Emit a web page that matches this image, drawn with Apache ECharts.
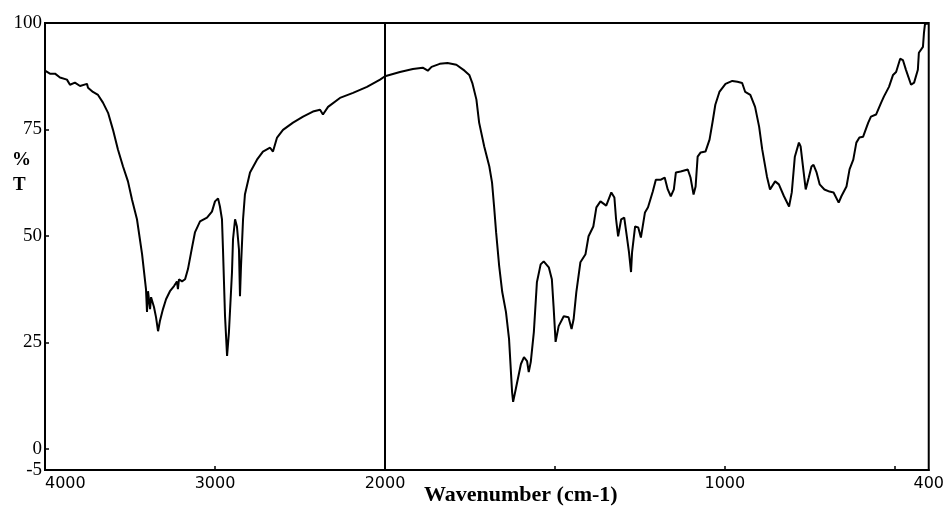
<!DOCTYPE html>
<html>
<head>
<meta charset="utf-8">
<title>FTIR spectrum</title>
<script src="https://cdn.jsdelivr.net/npm/echarts@6/dist/echarts.min.js"></script>
<style>
  html, body { margin: 0; padding: 0; background: #fff; }
  #chart { width: 947px; height: 510px; }
</style>
</head>
<body>
<div id="chart"></div>
<script>
// High-wavenumber region (4000–2000 cm-1), compressed scale
const wnHigh = [4000, 3971, 3941, 3912, 3871, 3853, 3824, 3794, 3753, 3747, 3718, 3688, 3659, 3629, 3600, 3571, 3541, 3512, 3488, 3459, 3429, 3406, 3400, 3394, 3382, 3376, 3359, 3347, 3335, 3324, 3306, 3288, 3265, 3241, 3224, 3218, 3212, 3194, 3176, 3159, 3135, 3118, 3088, 3047, 3018, 3000, 2982, 2971, 2959, 2953, 2941, 2929, 2918, 2900, 2894, 2882, 2876, 2871, 2859, 2853, 2847, 2835, 2824, 2794, 2753, 2718, 2676, 2659, 2635, 2600, 2541, 2482, 2424, 2382, 2365, 2335, 2265, 2188, 2106, 2029, 2000];
const tHigh = [88.8, 88.1, 88.1, 87.2, 86.7, 85.5, 86.0, 85.2, 85.7, 84.8, 83.8, 83.1, 81.3, 78.9, 74.9, 70.3, 66.3, 62.8, 58.5, 53.9, 45.7, 37.5, 32.1, 37.0, 32.8, 35.6, 33.3, 30.9, 27.6, 30.0, 32.8, 35.1, 37.0, 38.2, 39.3, 37.5, 39.8, 39.3, 39.8, 42.2, 47.3, 50.8, 53.4, 54.3, 55.7, 58.1, 58.8, 56.9, 53.9, 46.8, 31.1, 21.8, 27.4, 41.5, 49.2, 53.9, 54.3, 52.2, 46.8, 35.8, 42.9, 53.9, 59.7, 64.9, 67.9, 69.8, 70.7, 69.8, 73.1, 74.9, 76.6, 78.0, 79.2, 79.6, 78.5, 80.3, 82.4, 83.6, 85.0, 86.7, 87.5];

// Fingerprint region (2000–400 cm-1), expanded scale
const wnLow = [2000, 1956, 1918, 1889, 1874, 1863, 1839, 1816, 1790, 1766, 1752, 1743, 1731, 1723, 1708, 1693, 1685, 1679, 1673, 1664, 1655, 1644, 1635, 1626, 1623, 1615, 1600, 1591, 1582, 1577, 1571, 1562, 1553, 1542, 1533, 1518, 1509, 1504, 1498, 1489, 1474, 1460, 1451, 1445, 1437, 1425, 1410, 1401, 1387, 1378, 1366, 1349, 1334, 1325, 1320, 1314, 1305, 1296, 1290, 1282, 1276, 1273, 1264, 1255, 1247, 1235, 1226, 1212, 1203, 1188, 1177, 1168, 1159, 1150, 1144, 1130, 1109, 1101, 1092, 1086, 1080, 1071, 1057, 1045, 1036, 1028, 1016, 998, 978, 963, 949, 940, 925, 911, 899, 890, 876, 867, 852, 841, 826, 811, 803, 794, 782, 777, 768, 762, 753, 745, 739, 730, 721, 707, 692, 680, 665, 657, 642, 633, 622, 613, 604, 593, 578, 570, 555, 540, 532, 517, 505, 496, 484, 476, 467, 452, 443, 432, 429, 417, 414, 411, 405, 400];
const tLow = [87.5, 88.5, 89.2, 89.5, 88.8, 89.7, 90.4, 90.6, 90.2, 88.8, 87.8, 85.9, 82.0, 76.6, 71.0, 66.3, 62.5, 56.9, 50.8, 42.9, 36.8, 32.1, 25.8, 13.3, 11.0, 14.1, 19.9, 21.5, 20.6, 18.0, 20.4, 27.4, 39.1, 43.3, 44.0, 42.6, 39.8, 33.5, 25.1, 28.8, 31.1, 30.9, 28.1, 30.4, 36.8, 43.8, 45.7, 49.9, 52.2, 56.7, 58.1, 57.1, 60.2, 59.0, 53.9, 49.9, 53.9, 54.3, 50.8, 46.1, 41.5, 46.1, 52.2, 52.0, 49.6, 55.5, 56.7, 60.4, 63.2, 63.2, 63.7, 60.9, 59.3, 60.9, 64.9, 65.1, 65.6, 63.7, 59.7, 61.6, 68.6, 69.6, 69.8, 72.6, 76.8, 80.8, 83.8, 85.7, 86.4, 86.2, 85.9, 83.8, 83.1, 80.3, 75.6, 70.3, 63.9, 60.9, 62.8, 62.1, 59.3, 56.9, 60.2, 68.6, 71.9, 71.0, 64.9, 60.9, 63.7, 66.3, 66.7, 64.9, 62.1, 60.9, 60.4, 60.2, 57.8, 59.3, 61.6, 65.6, 67.9, 71.9, 73.1, 73.3, 76.6, 78.0, 78.5, 81.3, 82.7, 85.0, 87.8, 88.5, 91.6, 91.3, 89.0, 85.5, 86.0, 89.0, 93.0, 94.4, 97.7, 99.8, 99.8, 100];

// Axis labels and ticks
const yLabelValues = [-5, 0, 25, 50, 75, 100];
const yTickValues = [0, 25, 50, 75, 100];
const xHighLabels = [4000, 3000, 2000];
const xHighTicks = [3000];
const xLowLabels = [1000, 400];
const xLowTicks = [1500, 1000, 500];

const pair = (xs, ys) => xs.map((x, i) => [x, ys[i]]);
const plain = v => String(v);

const chart = echarts.init(document.getElementById('chart'), null, { renderer: 'canvas' });

const tickStyle = { show: true, inside: true, length: 4, lineStyle: { color: '#000', width: 1.5 } };
const xLabelStyle = { color: '#000', fontFamily: 'DejaVu Sans', fontSize: 16, margin: 6, formatter: plain };

chart.setOption({
  animation: false,
  backgroundColor: '#fff',
  grid: [
    { left: 45, top: 23, width: 340, bottom: 40, show: true, borderColor: '#000', borderWidth: 2, backgroundColor: 'transparent' },
    { left: 385, top: 23, width: 548, bottom: 40, show: true, borderColor: '#000', borderWidth: 2, backgroundColor: 'transparent' }
  ],
  xAxis: [
    {
      type: 'value', gridIndex: 0, min: 2000, max: 4000, inverse: true,
      axisLine: { show: true, onZero: false, lineStyle: { color: '#000', width: 2 } },
      axisTick: Object.assign({ customValues: xHighTicks }, tickStyle),
      axisLabel: Object.assign({ customValues: xHighLabels, alignMinLabel: 'left' }, xLabelStyle),
      splitLine: { show: false }
    },
    {
      type: 'value', gridIndex: 1, min: 400, max: 2000, inverse: true,
      axisLine: { show: true, onZero: false, lineStyle: { color: '#000', width: 2 } },
      axisTick: Object.assign({ customValues: xLowTicks }, tickStyle),
      axisLabel: Object.assign({ customValues: xLowLabels }, xLabelStyle),
      splitLine: { show: false }
    }
  ],
  yAxis: [
    {
      type: 'value', gridIndex: 0, min: -5, max: 100,
      axisLine: { show: true, onZero: false, lineStyle: { color: '#000', width: 2 } },
      axisTick: Object.assign({ customValues: yTickValues }, tickStyle),
      axisLabel: { customValues: yLabelValues, color: '#000', fontFamily: 'Liberation Serif', fontSize: 19, margin: 3 },
      splitLine: { show: false }
    },
    {
      type: 'value', gridIndex: 1, min: -5, max: 100,
      axisLine: { show: false }, axisTick: { show: false }, axisLabel: { show: false },
      splitLine: { show: false }
    }
  ],
  series: [
    {
      type: 'line', xAxisIndex: 0, yAxisIndex: 0, data: pair(wnHigh, tHigh),
      showSymbol: false, symbol: 'none', lineStyle: { color: '#000', width: 2 }, z: 3
    },
    {
      type: 'line', xAxisIndex: 1, yAxisIndex: 1, data: pair(wnLow, tLow),
      showSymbol: false, symbol: 'none', lineStyle: { color: '#000', width: 2 }, z: 3
    }
  ],
  graphic: [
    { type: 'text', left: 12, top: 151, style: { text: '%', fontFamily: 'Liberation Serif', fontWeight: 'bold', fontSize: 19, fill: '#000' } },
    { type: 'text', left: 13, top: 176, style: { text: 'T', fontFamily: 'Liberation Serif', fontWeight: 'bold', fontSize: 19, fill: '#000' } },
    { type: 'text', left: 424, top: 484, style: { text: 'Wavenumber (cm-1)', fontFamily: 'Liberation Serif', fontWeight: 'bold', fontSize: 22, fill: '#000' } }
  ]
});
</script>
</body>
</html>
